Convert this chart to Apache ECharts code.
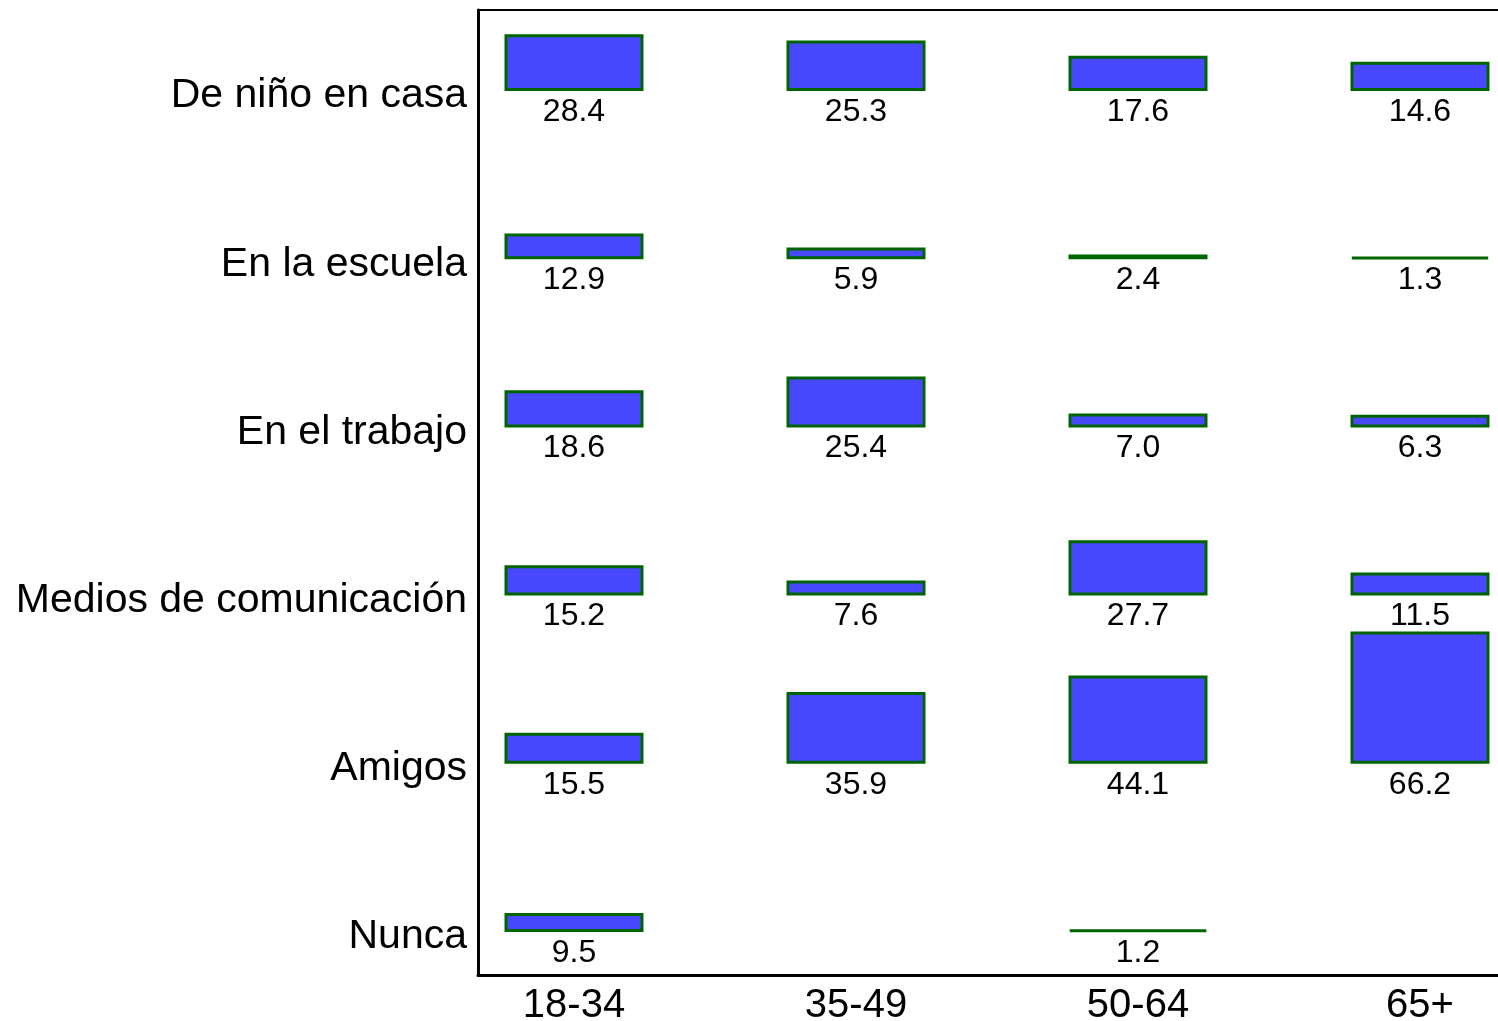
<!DOCTYPE html>
<html>
<head>
<meta charset="utf-8">
<script src="https://cdn.jsdelivr.net/npm/echarts@6/dist/echarts.min.js"></script>
<style>
  html, body { margin: 0; padding: 0; background: #fff; }
  #chart { width: 1498px; height: 1021px; }
</style>
</head>
<body>
<div id="chart"></div>
<script>
// categorías
const ageGroups = ["18-34", "35-49", "50-64", "65+"];
const sources = [
  "De niño en casa",
  "En la escuela",
  "En el trabajo",
  "Medios de comunicación",
  "Amigos",
  "Nunca"
];

// valores por fila (% de cada grupo de edad)
const deNinoEnCasa = [28.4, 25.3, 17.6, 14.6];
const enLaEscuela = [12.9, 5.9, 2.4, 1.3];
const enElTrabajo = [18.6, 25.4, 7.0, 6.3];
const medios = [15.2, 7.6, 27.7, 11.5];
const amigos = [15.5, 35.9, 44.1, 66.2];
const nunca = [9.5, "-", 1.2, "-"];

const rows = [deNinoEnCasa, enLaEscuela, enElTrabajo, medios, amigos, nunca];

const font = "'Liberation Sans', Arial, Helvetica, sans-serif";
const W = 1498, H = 1021;
const firstBase = 91;
const rowStep = 168.2;
const colLeft = 433;
const colWidth = 1128;

const chart = echarts.init(document.getElementById("chart"));

const grids = [];
const xAxes = [];
const yAxes = [];
const series = [];

// marco (ejes izquierdo, inferior y borde superior)
grids.push({
  left: 478, top: 10, width: W - 478 + 30, bottom: H - 975,
  outerBoundsMode: "none",
  show: true, borderColor: "#000", borderWidth: 2
});
xAxes.push({
  gridIndex: 0, type: "value", min: 0, max: 1,
  axisLine: { show: true, onZero: false, lineStyle: { color: "#000", width: 3 } },
  axisTick: { show: false }, axisLabel: { show: false }, splitLine: { show: false }
});
yAxes.push({
  gridIndex: 0, type: "value", min: 0, max: 1,
  axisLine: { show: true, onZero: false, lineStyle: { color: "#000", width: 3 } },
  axisTick: { show: false }, axisLabel: { show: false }, splitLine: { show: false }
});

// etiquetas de filas
grids.push({
  left: 478, top: firstBase + 5 - rowStep / 2, height: rowStep * 6, width: 100,
  outerBoundsMode: "none"
});
xAxes.push({ gridIndex: 1, type: "value", show: false });
yAxes.push({
  gridIndex: 1, type: "category", data: sources, inverse: true,
  axisLine: { show: false }, axisTick: { show: false },
  axisLabel: { fontSize: 41, color: "#000", fontFamily: font, margin: 11 }
});

// etiquetas de edad
grids.push({
  left: colLeft, width: colWidth, top: 10, bottom: H - 975,
  outerBoundsMode: "none"
});
xAxes.push({
  gridIndex: 2, type: "category", data: ageGroups,
  axisLine: { show: false }, axisTick: { show: false },
  axisLabel: { fontSize: 40, color: "#000", fontFamily: font, margin: 11 }
});
yAxes.push({ gridIndex: 2, type: "value", show: false });

// una rejilla por fila de barras
rows.forEach((values, i) => {
  const g = grids.length;
  const base = firstBase + rowStep * i;
  grids.push({
    left: colLeft, width: colWidth, top: base - 150, height: 150,
    outerBoundsMode: "none"
  });
  xAxes.push({ gridIndex: g, type: "category", data: ageGroups, show: false });
  yAxes.push({ gridIndex: g, type: "value", min: 0, max: 75, show: false });
  series.push({
    name: sources[i],
    type: "bar",
    xAxisIndex: g,
    yAxisIndex: g,
    data: values,
    barWidth: 139,
    itemStyle: { color: "#4848FF", borderColor: "#006400", borderWidth: 3 },
    label: {
      show: true,
      position: "bottom",
      distance: 5,
      fontSize: 32,
      color: "#000",
      fontFamily: font,
      formatter: p => Number(p.value).toFixed(1)
    }
  });
});

chart.setOption({
  animation: false,
  grid: grids,
  xAxis: xAxes,
  yAxis: yAxes,
  series: series
});
</script>
</body>
</html>
